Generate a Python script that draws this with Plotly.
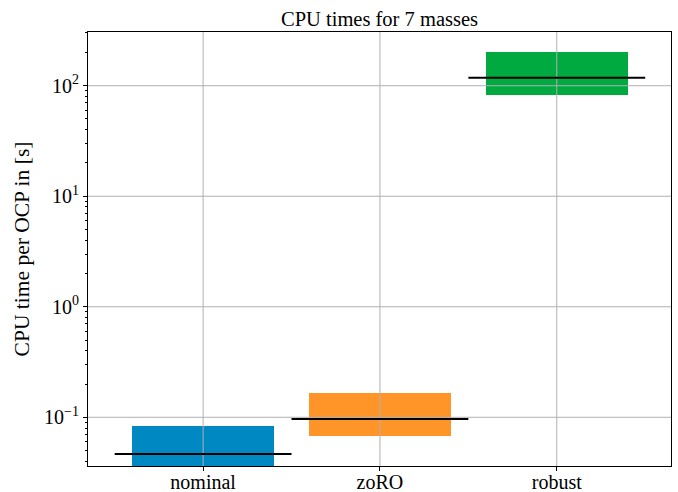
import plotly.graph_objects as go

# CPU time per OCP for each controller (seconds)
methods = ["nominal", "zoRO", "robust"]
t_min = [0.034, 0.068, 83.0]
t_max = [0.0834, 0.166, 202.0]
t_median = [0.0466, 0.0966, 118.0]
colors = ["#0088c2", "#ff9529", "#00aa41"]

ytick_vals = [0.1, 1, 10, 100]
ytick_text = ["10<sup>−1</sup>", "10<sup>0</sup>", "10<sup>1</sup>", "10<sup>2</sup>"]
ytick_minor = [m * 10.0 ** e for e in range(-2, 3) for m in range(2, 10)]

x_pos = list(range(len(methods)))
FONT = "Liberation Serif"
GRID = "#b0b0b0"

fig = go.Figure()

# floating bars spanning min..max
fig.add_trace(go.Bar(
    x=x_pos,
    y=[hi - lo for lo, hi in zip(t_min, t_max)],
    base=t_min,
    width=0.8,
    marker=dict(color=colors, line=dict(width=0)),
    showlegend=False,
    hoverinfo="skip",
))

shapes = []
# grid drawn over the bars
for v in ytick_vals:
    shapes.append(dict(type="line", xref="paper", yref="y", x0=0, x1=1, y0=v, y1=v,
                       line=dict(color=GRID, width=1), layer="above"))
for xp in x_pos:
    shapes.append(dict(type="line", xref="x", yref="paper", x0=xp, x1=xp, y0=0, y1=1,
                       line=dict(color=GRID, width=1), layer="above"))
# median markers
for xp, med in zip(x_pos, t_median):
    shapes.append(dict(type="line", xref="x", yref="y", x0=xp - 0.5, x1=xp + 0.5,
                       y0=med, y1=med, line=dict(color="black", width=2), layer="above"))

fig.update_layout(
    width=678, height=492,
    margin=dict(l=88, r=7, t=32, b=26, autoexpand=False),
    paper_bgcolor="white", plot_bgcolor="white",
    font=dict(family=FONT, size=20, color="black"),
    title=dict(text="CPU times for 7 masses", x=0.5, xanchor="center",
               xref="paper", y=1, yref="paper", yanchor="bottom",
               pad=dict(b=6), font=dict(family=FONT, size=20.5, color="black")),
    shapes=shapes,
    bargap=0,
)

fig.update_xaxes(
    range=[-0.651, 2.646], automargin=False,
    tickmode="array", tickvals=x_pos, ticktext=methods,
    tickfont=dict(family=FONT, size=20, color="black"),
    ticks="outside", ticklen=4, tickcolor="black", tickwidth=1,
    ticklabelstandoff=-6,
    showgrid=False, zeroline=False,
    showline=True, linecolor="black", linewidth=1, mirror=True,
    layer="above traces",
)
fig.update_yaxes(
    type="log", range=[-1.4407, 2.486], automargin=False,
    tickmode="array", tickvals=ytick_vals, ticktext=ytick_text,
    tickfont=dict(family=FONT, size=20, color="black"),
    ticks="outside", ticklen=4, tickcolor="black", tickwidth=1,
    minor=dict(tickmode="array", tickvals=ytick_minor, ticks="outside",
               ticklen=2, tickcolor="black", showgrid=False),
    showgrid=False, zeroline=False,
    showline=True, linecolor="black", linewidth=1, mirror=True,
    layer="above traces",
    title=dict(text="CPU time per OCP in [s]", standoff=8,
               font=dict(family=FONT, size=21.5, color="black")),
)

fig.write_html("out.html")
